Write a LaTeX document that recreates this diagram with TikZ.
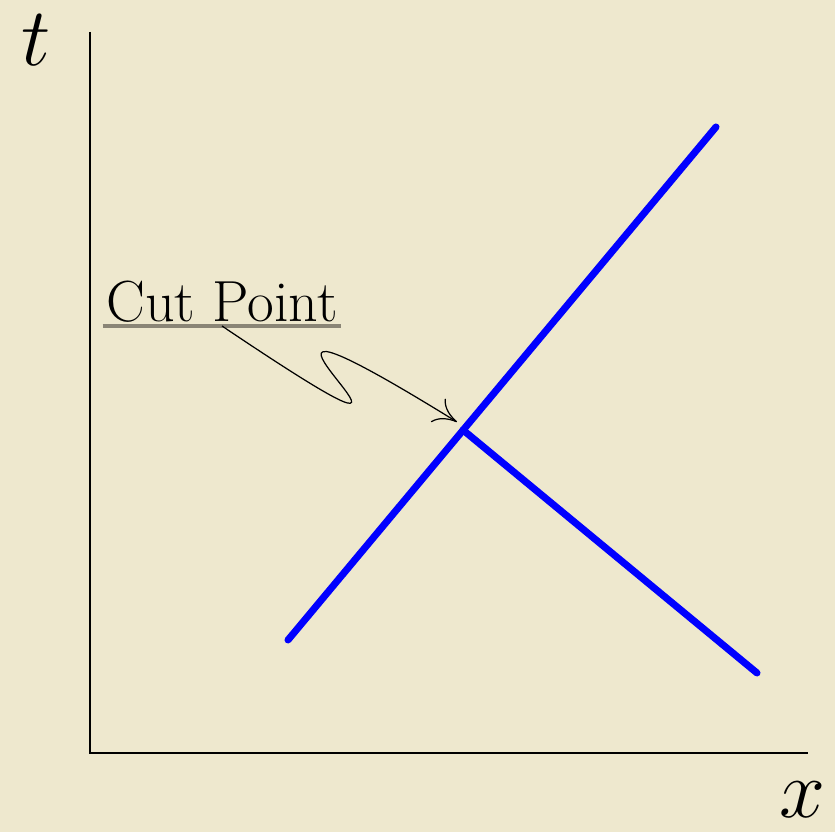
\RequirePackage{fix-cm}
\documentclass[tikz,border=0pt]{standalone}
\usepackage{tikz}
\usetikzlibrary{arrows.meta}
\definecolor{bgBeige}{HTML}{EEE8CE}
\definecolor{wlBlue}{HTML}{0000FF}
\definecolor{ulGray}{HTML}{8A8576}
\tikzset{
  ax/.style={line width=1.6pt, black},
  wl/.style={line width=4pt, wlBlue, line cap=round},
  lbl/.style={font=\fontsize{47}{56}\selectfont, inner sep=0pt},
  tag/.style={font=\fontsize{33}{40}\selectfont, inner sep=2pt},
  ul/.style={line width=2.2pt, ulGray},
  A/.style={-{Computer Modern Rightarrow[length=4.5mm,width=5.5mm]}, line width=0.7pt},
}
\begin{document}
\begin{tikzpicture}

% background and frame
\fill[bgBeige] (0,0) rectangle (16.7,16.64);
\useasboundingbox (0,0) rectangle (16.7,16.64);

% axes
\coordinate (O) at (1.8,1.58);
\coordinate (tend) at (1.8,16.0);
\coordinate (xend) at (16.16,1.58);
\draw[ax] (tend) -- (O) -- (xend);
\node[lbl] (tlab) at (0.72,15.84) {$t$};
\node[lbl] (xlab) at (16.04,0.64) {$x$};

% world lines
\coordinate (wA) at (5.76,3.84);
\coordinate (cut) at (9.26,8.04);
\coordinate (wB) at (14.32,14.1);
\coordinate (wC) at (15.14,3.18);
\draw[wl] (wA) -- (wB);
\draw[wl] (cut) -- (wC);

% label with underline and curly arrow
\node[tag, anchor=south] (cp) at (4.44,10.12) {Cut Point};
\draw[ul] (cp.south west) -- (cp.south east);
\draw[A] (cp.south) .. controls (10.8,5.84) and (2.6,12.24) .. (9.14,8.2);

\end{tikzpicture}
\end{document}
